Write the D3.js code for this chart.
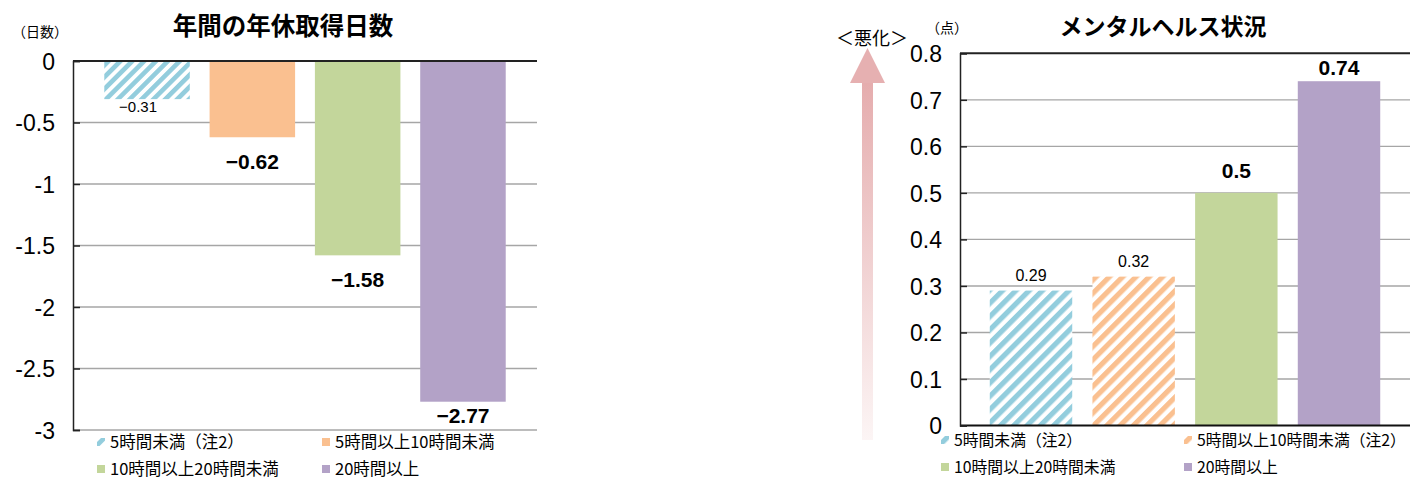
<!DOCTYPE html>
<html><head><meta charset="utf-8">
<script src="https://cdn.jsdelivr.net/npm/d3@7/dist/d3.min.js"></script>
<style>body{margin:0;background:#fff}svg{display:block}</style>
</head><body><svg id="c" width="1410" height="479"></svg>
<script>
// ---- data ----
const leftTitle = "年間の年休取得日数";
const leftUnit = "（日数）";
const leftCategories = ["5時間未満（注2）", "5時間以上10時間未満", "10時間以上20時間未満", "20時間以上"];
const leftValues = [-0.31, -0.62, -1.58, -2.77];
const leftTicks = [0, -0.5, -1, -1.5, -2, -2.5, -3];

const rightTitle = "メンタルヘルス状況";
const rightUnit = "（点）";
const rightNote = "＜悪化＞";
const rightCategories = ["5時間未満（注2）", "5時間以上10時間未満（注2）", "10時間以上20時間未満", "20時間以上"];
const rightValues = [0.29, 0.32, 0.5, 0.74];
const rightTicks = [0, 0.1, 0.2, 0.3, 0.4, 0.5, 0.6, 0.7, 0.8];

const seriesColors = ["#93cddd", "#fac090", "#c3d69b", "#b3a2c7"];

// ---- drawing ----
const svg = d3.select("#c");
const CJK = "'Noto Sans CJK JP', sans-serif";
const NUM = "'Liberation Sans', Arial, sans-serif";
const defs = svg.append("defs");

function hatch(id, color, period) {
  const p = defs.append("pattern").attr("id", id).attr("patternUnits", "userSpaceOnUse")
    .attr("width", period).attr("height", period).attr("patternTransform", "rotate(45)");
  p.append("rect").attr("width", period).attr("height", period).attr("fill", "#fff");
  p.append("rect").attr("width", period * 0.55).attr("height", period).attr("fill", color);
}
hatch("hb1", seriesColors[0], 8.4);
hatch("hb2", seriesColors[0], 9.4);
hatch("ho2", seriesColors[1], 9.4);

const grad = defs.append("linearGradient").attr("id", "arrowGrad").attr("x1", 0).attr("y1", 0).attr("x2", 0).attr("y2", 1);
grad.append("stop").attr("offset", "0%").attr("stop-color", "#e5acad");
grad.append("stop").attr("offset", "100%").attr("stop-color", "#fcf5f5");

const isHatched = c => c.includes("（注2）");

function drawChart(o) {
  const g = svg.append("g");
  const x = d3.scaleBand().domain(o.categories).range(o.xRange)
    .paddingInner(o.padIn).paddingOuter(o.padOut);
  const y = d3.scaleLinear().domain(o.domain).range(o.yRange);
  const [x0, x1] = o.xRange;

  // gridlines
  g.selectAll("line.grid").data(o.ticks.filter(t => t !== o.darkTop && t !== o.darkBottom)).join("line")
    .attr("x1", x0).attr("x2", x1).attr("y1", d => y(d)).attr("y2", d => y(d))
    .attr("stroke", "#a6a6a6").attr("stroke-width", 1.4);

  // bars
  g.selectAll("rect.bar").data(o.values).join("rect")
    .attr("x", (d, i) => x(o.categories[i]))
    .attr("width", x.bandwidth())
    .attr("y", d => Math.min(y(d), y(0)))
    .attr("height", d => Math.abs(y(d) - y(0)))
    .attr("fill", (d, i) => isHatched(o.categories[i]) ? `url(#${o.hatchIds[i]})` : seriesColors[i]);

  // dark frame lines
  if (o.darkTop !== null) g.append("line").attr("x1", x0).attr("x2", x1)
    .attr("y1", y(o.darkTop)).attr("y2", y(o.darkTop)).attr("stroke", "#222").attr("stroke-width", 2);
  if (o.darkBottom !== null) g.append("line").attr("x1", x0).attr("x2", x1)
    .attr("y1", y(o.darkBottom)).attr("y2", y(o.darkBottom)).attr("stroke", "#111").attr("stroke-width", 2);

  // y axis
  const ax = g.append("g").attr("transform", `translate(${x0},0)`)
    .call(d3.axisLeft(y).tickValues(o.ticks).tickSize(-7).tickPadding(18).tickFormat(d => String(d)));
  ax.select(".domain").attr("stroke", "#222").attr("stroke-width", 1.5);
  ax.selectAll(".tick line").attr("stroke", "#222").attr("stroke-width", 1.5);
  ax.selectAll(".tick text").attr("font-family", NUM).attr("font-size", 23).attr("fill", "#000")
    .attr("dy", "0.36em");

  // value labels
  g.selectAll("text.val").data(o.values).join("text")
    .attr("x", (d, i) => x(o.categories[i]) + x.bandwidth() / 2 + (isHatched(o.categories[i]) ? o.smallDx : 0))
    .attr("y", (d, i) => o.labelY(d, y, isHatched(o.categories[i])))
    .attr("text-anchor", "middle")
    .attr("font-family", NUM)
    .attr("font-weight", (d, i) => isHatched(o.categories[i]) ? "normal" : "bold")
    .attr("font-size", (d, i) => isHatched(o.categories[i]) ? o.smallSize : 21)
    .attr("fill", "#000")
    .text(d => o.fmt(d));

  // title & unit
  g.append("text").attr("x", o.titleX).attr("y", 35).attr("text-anchor", "middle")
    .attr("font-family", CJK).attr("font-weight", "bold").attr("font-size", o.titleSize).text(o.title);
  g.append("text").attr("x", o.unitX).attr("y", o.unitY).attr("text-anchor", "middle")
    .attr("font-family", CJK).attr("font-size", 14).text(o.unit);

  // legend
  const lg = g.selectAll("g.leg").data(o.categories).join("g")
    .attr("transform", (d, i) => `translate(${o.legX[i % 2]},${o.legY[Math.floor(i / 2)]})`);
  lg.append("rect").attr("x", 0).attr("y", -4).attr("width", 8).attr("height", 8)
    .attr("fill", (d, i) => isHatched(d) ? `url(#${o.hatchIds[i]})` : seriesColors[i]);
  lg.append("text").attr("x", 13).attr("y", 0).attr("dy", "0.35em")
    .attr("font-family", CJK).attr("font-size", o.legSize).attr("fill", "#000").text(d => d);
}

const fmtNeg = d3.format(".2f");

drawChart({
  categories: leftCategories, values: leftValues, ticks: leftTicks,
  domain: [-3, 0], yRange: [430, 61], xRange: [73, 537], padIn: 0.188, padOut: 0.297,
  darkTop: 0, darkBottom: null,
  hatchIds: ["hb1", "hb1", "hb1", "hb1"],
  fmt: d => fmtNeg(d),
  smallDx: -9, smallSize: 15,
  labelY: (d, y, small) => small ? y(d) + 13 : Math.min(y(d) + 32, y(-3) - 7),
  title: leftTitle, titleX: 283, titleSize: 24.5, unit: leftUnit, unitX: 40, unitY: 37,
  legX: [97, 322], legY: [442, 469], legSize: 16.5
});

drawChart({
  categories: rightCategories, values: rightValues, ticks: rightTicks,
  domain: [0, 0.8], yRange: [425.5, 53.3], xRange: [960, 1410], padIn: 0.197, padOut: 0.29,
  darkTop: 0.8, darkBottom: 0,
  hatchIds: ["hb2", "ho2", "ho2", "ho2"],
  fmt: d => String(d),
  smallDx: 0, smallSize: 16,
  labelY: (d, y, small) => small ? y(d) - 10 : Math.max(y(d) - 15, y(0.8) + 22),
  title: rightTitle, titleX: 1163, titleSize: 23, unit: rightUnit, unitX: 947, unitY: 33,
  legX: [941, 1184], legY: [440, 467], legSize: 15.8
});

// "worsening" arrow
const ag = svg.append("g");
ag.append("rect").attr("x", 862).attr("y", 80).attr("width", 11).attr("height", 360).attr("fill", "url(#arrowGrad)");
ag.append("path").attr("d", d3.line()([[867.5, 48], [885, 83], [850, 83]]) + "Z").attr("fill", "#e6b0b1");
ag.append("text").attr("x", 872).attr("y", 45).attr("text-anchor", "middle")
  .attr("font-family", CJK).attr("font-size", 18).text(rightNote);
</script></body></html>
